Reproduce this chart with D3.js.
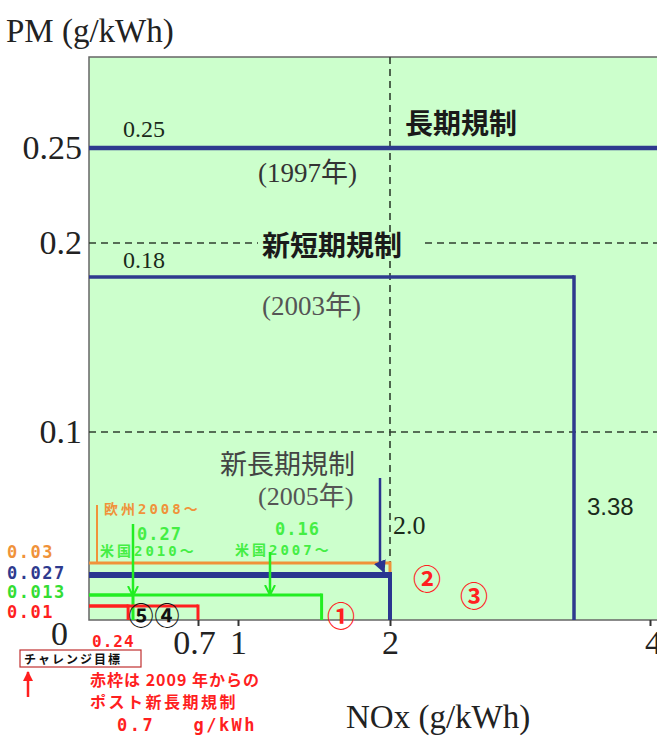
<!DOCTYPE html>
<html><head><meta charset="utf-8">
<script src="https://cdn.jsdelivr.net/npm/d3@7"></script>
<style>body{margin:0;background:#fff;overflow:hidden}</style>
</head><body><svg id="c" width="657" height="736"></svg>
<script>
// ---------- data ----------
const yTicks = [0, 0.1, 0.2, 0.25];
const yTickLabels = ["0", "0.1", "0.2", "0.25"];
const xTicks = [0.7, 1, 2, 4];
const xTickLabels = ["0.7", "1", "2", "4"];
const gridPM = [0.1, 0.2];
const gridNOx = [2.0];
// regulations (NOx limit, PM limit)
const regKeys  = ["lt1997", "st2003", "eu2008", "nlt2005", "us2007", "us2010", "post2009", "challenge"];
const regNOx   = [5.8, 3.38, 2.0, 2.0, 1.55, 0.27, 0.7, 0.24];
const regPM    = [0.25, 0.18, 0.03, 0.027, 0.013, 0.013, 0.01, 0.01];
const pmLabels = ["0.03", "0.027", "0.013", "0.01"];

// ---------- layout ----------
const svg = d3.select("#c");
const x = d3.scaleLinear()
  .domain([0, 0.27, 0.7, 1, 2, 3.38, 4])
  .range([89, 133, 198, 238, 390, 574, 650]);
const y = d3.scaleLinear()
  .domain([0, 0.01, 0.013, 0.027, 0.03, 0.1, 0.18, 0.2, 0.25, 0.298])
  .range([620, 606, 595, 575, 563, 432, 277, 243, 148, 57]);

const style = {
  lt1997:   {c: "#2e3a8e", w: 4.5},
  st2003:   {c: "#2e3a8e", w: 3.5},
  eu2008:   {c: "#f0923a", w: 3},
  nlt2005:  {c: "#2a3590", w: 6, vw: 4},
  us2007:   {c: "#22ee22", w: 3},
  us2010:   {c: "#22ee22", w: 3},
  post2009: {c: "#ff1f1f", w: 3},
  challenge:{c: "#ff1f1f", w: 3}
};
const serif = "'Liberation Serif', 'Noto Sans CJK JP', serif";
const cjk = "'Noto Sans CJK JP', sans-serif";
const bmp = "'DejaVu Sans Mono', 'Noto Sans CJK JP', monospace";

// plot background
svg.append("rect").attr("x", x(0)).attr("y", y(0.298))
  .attr("width", 700).attr("height", y(0) - y(0.298))
  .attr("fill", "#ccffcc").attr("stroke", "#666").attr("stroke-width", 1.5);

// dashed grid
svg.selectAll(".gh").data(gridPM).join("line")
  .attr("x1", x(0)).attr("x2", 700).attr("y1", d => y(d)).attr("y2", d => y(d))
  .attr("stroke", "#2f3f2f").attr("stroke-width", 1.6).attr("stroke-dasharray", "7,5");

// label background for 新短期規制 (hides dashes)
svg.append("rect").attr("x", 258).attr("y", 230).attr("width", 166).attr("height", 30).attr("fill", "#ccffcc");

svg.selectAll(".gv").data(gridNOx).join("line")
  .attr("x1", d => x(d)).attr("x2", d => x(d)).attr("y1", y(0.298)).attr("y2", y(0.03))
  .attr("stroke", "#2f3f2f").attr("stroke-width", 1.6).attr("stroke-dasharray", "7,5");

// regulation boxes
const order = [1, 0, 2, 3, 4, 5, 6, 7];
order.forEach(i => {
  const k = regKeys[i], s = style[k];
  const x1 = x(regNOx[i]), y1 = y(regPM[i]);
  svg.append("line").attr("x1", x(0)).attr("x2", x1).attr("y1", y1).attr("y2", y1)
    .attr("stroke", s.c).attr("stroke-width", s.w);
  svg.append("line").attr("x1", x1).attr("x2", x1).attr("y1", y1 - s.w / 2).attr("y2", y(0))
    .attr("stroke", s.c).attr("stroke-width", s.vw || s.w);
});

// axes
const xAxis = svg.append("g").attr("transform", `translate(0,${y(0)})`)
  .call(d3.axisBottom(x).tickValues(xTicks).tickSize(6).tickPadding(4)
        .tickFormat((d, i) => xTickLabels[i]));
xAxis.select(".domain").remove();
xAxis.selectAll("line").attr("stroke", "#333").attr("stroke-width", 2);
xAxis.selectAll("text").attr("font-family", serif).attr("font-size", 34).attr("fill", "#222")
  .attr("dx", (d) => d === 0.7 ? -4 : (d === 4 ? 3 : 0));

const yAxis = svg.append("g").attr("transform", `translate(${x(0)},0)`)
  .call(d3.axisLeft(y).tickValues(yTicks).tickSize(0).tickPadding(7)
        .tickFormat((d, i) => yTickLabels[i]));
yAxis.select(".domain").remove();
yAxis.selectAll("text").attr("font-family", serif).attr("font-size", 34).attr("fill", "#222");
yAxis.selectAll("g.tick").filter(d => d === 0).select("text").attr("dx", -14).attr("dy", "0.72em");

// axis titles
svg.append("text").attr("x", 6).attr("y", 42).text("PM (g/kWh)")
  .attr("font-family", serif).attr("font-size", 33).attr("fill", "#222");
svg.append("text").attr("x", 346).attr("y", 728).text("NOx (g/kWh)")
  .attr("font-family", serif).attr("font-size", 33).attr("fill", "#222");

// annotation helper
function t(txt, px, py, opt) {
  const e = svg.append("text").attr("x", px).attr("y", py).text(txt)
    .attr("font-family", opt.f || serif).attr("font-size", opt.s || 20)
    .attr("fill", opt.c || "#222").attr("font-weight", opt.b ? "bold" : "normal");
  if (opt.ls) e.attr("letter-spacing", opt.ls);
  if (opt.a) e.attr("text-anchor", opt.a);
  return e;
}
// value labels
t(String(regPM[0]), 123, 137, {s: 24, c: "#1a2a1a"});
t(String(regPM[1]), 123, 268, {s: 24, c: "#1a2a1a"});
t(String(regNOx[1]), 587, 515, {s: 24, c: "#1a2a1a", f: "'Liberation Sans', sans-serif"});
t("2.0", 393, 534, {s: 26, c: "#1a2a1a"});

// regulation names
t("長期規制", 405, 134, {s: 28, f: cjk, b: true, c: "#1a1a1a"});
t("(1997年)", 258, 182, {s: 27, c: "#333"});
t("新短期規制", 262, 256, {s: 28, f: cjk, b: true, c: "#1a1a1a"});
t("(2003年)", 262, 315, {s: 27, c: "#555"});
t("新長期規制", 220, 474, {s: 27, f: cjk, c: "#444"});
t("(2005年)", 258, 505, {s: 26, c: "#555"});

// markers
svg.append("defs").html(`
<marker id="an" viewBox="0 0 10 10" refX="9" refY="5" markerWidth="5" markerHeight="5" orient="auto"><path d="M0,0 L10,5 L0,10 z" fill="#2a3590"/></marker>
<marker id="ag" viewBox="0 0 10 10" refX="9" refY="5" markerWidth="4" markerHeight="5" orient="auto"><path d="M0,0 L10,5 L0,10" fill="none" stroke="#22ee22" stroke-width="2"/></marker>
<marker id="ar" viewBox="0 0 10 10" refX="9" refY="5" markerWidth="4" markerHeight="4" orient="auto"><path d="M0,0 L10,5 L0,10 z" fill="#ff1f1f"/></marker>`);
// navy arrow from 2005 label
svg.append("path").attr("d", `M380,478 V562 L384,${y(0.027) - 3}`)
  .attr("fill", "none").attr("stroke", "#2a3590").attr("stroke-width", 2.5).attr("marker-end", "url(#an)");

// EU label
t("欧州2008〜", 104, 514, {s: 14, f: bmp, b: true, c: "#f0923a", ls: 3});
svg.append("line").attr("x1", 97).attr("x2", 97).attr("y1", 505).attr("y2", y(0.03))
  .attr("stroke", "#f0923a").attr("stroke-width", 2);

// US labels + arrows
t("0.27", 137, 540, {s: 17, f: bmp, b: true, c: "#44ee44", ls: 1});
t("米国2010〜", 100, 556, {s: 14, f: bmp, b: true, c: "#44ee44", ls: 3});
t("0.16", 275, 535, {s: 17, f: bmp, b: true, c: "#44ee44", ls: 1});
t("米国2007〜", 235, 555, {s: 14, f: bmp, b: true, c: "#44ee44", ls: 3});
svg.append("line").attr("x1", x(0.27)).attr("x2", x(0.27)).attr("y1", 524).attr("y2", y(0.013))
  .attr("stroke", "#22ee22").attr("stroke-width", 2.5).attr("marker-end", "url(#ag)");
svg.append("line").attr("x1", 270).attr("x2", 270).attr("y1", 552).attr("y2", y(0.013) - 1)
  .attr("stroke", "#22ee22").attr("stroke-width", 2.5).attr("marker-end", "url(#ag)");

// left PM value labels
const pmCols = ["#f0923a", "#2e3a8e", "#33dd33", "#ff1f1f"];
const pmBase = [558, 579, 598, 618];
pmLabels.forEach((l, i) => t(l, 7, pmBase[i], {s: 17, f: bmp, b: true, c: pmCols[i], ls: 1.5}));

// circled numbers
t("①", 341, 627, {s: 28, f: cjk, b: true, c: "#ff2020", a: "middle"});
t("②", 427, 590, {s: 28, f: cjk, b: true, c: "#ff2020", a: "middle"});
t("③", 474, 607, {s: 28, f: cjk, b: true, c: "#ff2020", a: "middle"});
t("⑤", 141, 625, {s: 25, f: cjk, b: true, c: "#111", a: "middle"});
t("④", 167, 625, {s: 25, f: cjk, b: true, c: "#111", a: "middle"});

// challenge target
t(String(regNOx[7]), 92, 647, {s: 16, f: bmp, b: true, c: "#ff1f1f", ls: 1});
svg.append("rect").attr("x", 20).attr("y", 650).attr("width", 121).attr("height", 17)
  .attr("fill", "#fff").attr("stroke", "#c03030").attr("stroke-width", 1.2);
t("チャレンジ目標", 24, 664, {s: 12, f: cjk, b: true, c: "#111", ls: 2});
svg.append("line").attr("x1", 28).attr("x2", 28).attr("y1", 697).attr("y2", 672)
  .attr("stroke", "#ff1f1f").attr("stroke-width", 2.5).attr("marker-end", "url(#ar)");

t("赤枠は 2009 年からの", 90, 686, {s: 16, f: cjk, b: true, c: "#ff1f1f", ls: 1});
t("ポスト新長期規制", 90, 708, {s: 16, f: cjk, b: true, c: "#ff1f1f", ls: 2.5});
t("0.7\u00a0\u00a0\u00a0g/kWh", 117, 731, {s: 17, f: bmp, b: true, c: "#ff1f1f", ls: 2.5});
</script></body></html>
